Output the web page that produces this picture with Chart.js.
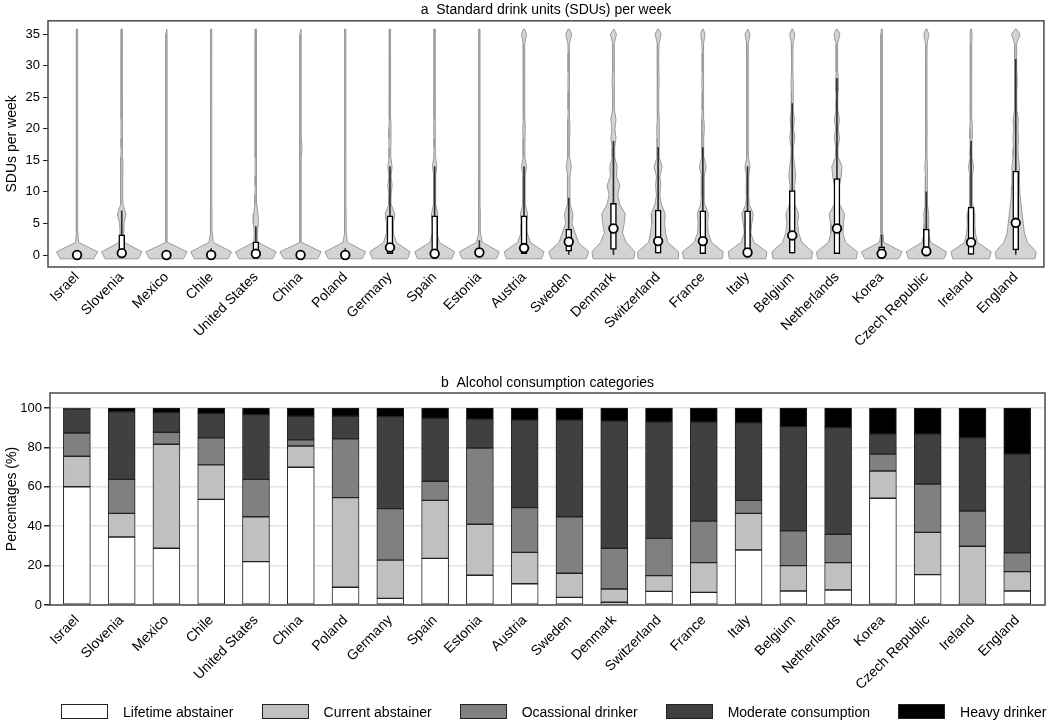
<!DOCTYPE html>
<html>
<head>
<meta charset="utf-8">
<script src="https://cdn.jsdelivr.net/npm/chart.js@4.4.1/dist/chart.umd.min.js"></script>
<style>
  html, body { margin: 0; padding: 0; background: #fff; overflow: hidden; }
  #wrap { position: relative; width: 1050px; height: 725px; overflow: hidden; }
  canvas { position: absolute; left: 0; }
  #sdu { top: 0; }
  #cat { top: 370px; }
  #legend {
    position: absolute; left: 61px; top: 704px; margin: 0; padding: 0;
    list-style: none; display: flex; width: max-content; white-space: nowrap;
    font: 14px 'Liberation Sans', Arial, sans-serif; color: #000;
  }
  #legend li { display: flex; align-items: center; flex-shrink: 0; margin-right: 28px; height: 15px; }
  #legend .box { width: 47px; height: 15px; box-sizing: border-box; border: 1px solid #222; margin-right: 15px; }
</style>
</head>
<body>
<div id="wrap">
  <canvas id="sdu" width="1050" height="370"></canvas>
  <canvas id="cat" width="1050" height="355"></canvas>
  <ul id="legend"></ul>
</div>
<script>
const countries = ['Israel', 'Slovenia', 'Mexico', 'Chile', 'United States', 'China', 'Poland',
  'Germany', 'Spain', 'Estonia', 'Austria', 'Sweden', 'Denmark', 'Switzerland', 'France', 'Italy',
  'Belgium', 'Netherlands', 'Korea', 'Czech Republic', 'Ireland', 'England'];

const sduTicks = [0, 5, 10, 15, 20, 25, 30, 35];
const pctTicks = [0, 20, 40, 60, 80, 100];

// ---- panel a: box plot stats (SDUs per week) ----
const sduMedian = [0, 0.3, 0, 0, 0.2, 0, 0, 1.2, 0.2, 0.4, 1.1, 2.1, 4.2, 2.2, 2.2, 0.4, 3.1, 4.2, 0.2, 0.6, 2.0, 5.1];
const sduQ1     = [0, 0.3, 0, 0, 0.2, 0, 0, 0.2, 0, 0, 0.2, 0.6, 0.9, 0.3, 0.2, 0, 0.3, 0.2, 0, 0, 0.1, 0.8];
const sduQ3     = [0, 3.2, 0, 0.4, 2.1, 0, 0.4, 6.2, 6.2, 1, 6.2, 4.1, 8.2, 7.1, 7.0, 7.0, 10.2, 12.1, 1.3, 4.1, 7.6, 13.3];
const sduLow    = [0, 0.3, 0, 0, 0.2, 0, 0, 0.2, 0, 0, 0.2, 0, 0, 0.3, 0.2, 0, 0.3, 0.2, 0, 0, 0.1, 0];
const sduHigh   = [0, 7, 0, 1, 4.5, 0, 1, 14, 14, 2.3, 14, 9, 18, 17, 17, 14, 24, 28, 3.2, 10, 18, 31];

// kernel density at sduGrid, relative to the widest violin
const sduGrid = [-0.6, 0.5, 2, 3.5, 5, 6.5, 8, 9.5, 11, 12.5, 14, 15.5, 17, 18.5, 20, 21.5, 23, 24.5, 26, 27.5, 29, 30.5, 32, 33.5, 35, 35.8];
const sduDensity = [
  [.78,.96,.07,.04,.03,.03,.03,.03,.03,.03,.03,.03,.03,.03,.03,.03,.03,.03,.03,.03,.03,.03,.03,.03,.03,.02], // Israel
  [.78,.94,.12,.08,.10,.20,.06,.04,.05,.04,.06,.04,.03,.03,.04,.03,.03,.03,.03,.03,.03,.03,.03,.03,.03,.02], // Slovenia
  [.79,.96,.06,.03,.03,.03,.03,.03,.03,.03,.03,.03,.03,.03,.03,.03,.03,.03,.03,.03,.03,.03,.03,.03,.03,.02], // Mexico
  [.79,.95,.10,.05,.04,.04,.03,.03,.03,.03,.03,.03,.03,.03,.03,.03,.03,.03,.03,.03,.03,.03,.03,.03,.03,.02], // Chile
  [.79,.95,.10,.07,.12,.10,.05,.04,.03,.03,.04,.03,.03,.03,.03,.03,.03,.03,.03,.03,.03,.03,.03,.03,.03,.02], // United States
  [.79,.96,.06,.03,.03,.03,.03,.03,.03,.03,.03,.03,.07,.04,.03,.03,.03,.04,.03,.03,.03,.03,.03,.03,.03,.02], // China
  [.79,.95,.10,.05,.04,.04,.03,.03,.03,.03,.03,.03,.03,.03,.03,.03,.03,.03,.03,.03,.03,.03,.03,.03,.03,.02], // Poland
  [.82,.94,.30,.15,.16,.22,.06,.05,.10,.05,.10,.04,.04,.05,.05,.04,.03,.03,.03,.03,.03,.03,.03,.03,.03,.02], // Germany
  [.80,.93,.22,.10,.10,.15,.05,.04,.06,.04,.10,.04,.03,.03,.05,.03,.03,.03,.03,.03,.03,.03,.03,.03,.03,.02], // Spain
  [.80,.93,.14,.05,.04,.05,.03,.03,.03,.03,.03,.03,.03,.03,.03,.03,.03,.03,.03,.03,.03,.03,.03,.03,.03,.02], // Estonia
  [.82,.93,.30,.14,.13,.17,.06,.05,.06,.05,.12,.04,.04,.04,.06,.04,.03,.03,.03,.04,.03,.03,.03,.04,.12,.02], // Austria
  [.82,.93,.45,.30,.15,.20,.07,.05,.06,.05,.12,.04,.04,.04,.06,.04,.03,.03,.03,.04,.03,.03,.03,.04,.14,.02], // Sweden
  [.95,1.0,.60,.42,.50,.55,.30,.20,.30,.14,.17,.06,.06,.12,.07,.12,.04,.04,.04,.07,.04,.03,.03,.04,.14,.02], // Denmark
  [.93,.95,.45,.35,.30,.33,.15,.08,.12,.08,.19,.05,.04,.05,.07,.05,.03,.03,.03,.05,.03,.03,.03,.04,.14,.02], // Switzerland
  [.90,.95,.40,.25,.22,.26,.10,.06,.08,.06,.16,.05,.04,.04,.07,.05,.03,.03,.03,.05,.03,.03,.03,.04,.10,.02], // France
  [.85,.90,.30,.15,.20,.27,.08,.05,.06,.05,.12,.04,.03,.03,.05,.04,.03,.03,.03,.04,.03,.03,.03,.04,.12,.02], // Italy
  [.90,.95,.45,.30,.25,.30,.12,.12,.10,.16,.12,.06,.05,.12,.06,.10,.04,.04,.04,.06,.03,.03,.03,.04,.12,.02], // Belgium
  [.90,.95,.40,.28,.30,.36,.12,.08,.12,.20,.24,.06,.05,.12,.06,.12,.04,.04,.05,.07,.04,.03,.03,.04,.14,.02], // Netherlands
  [.79,.95,.10,.06,.05,.05,.04,.04,.03,.03,.03,.03,.03,.03,.03,.03,.03,.03,.03,.03,.03,.03,.03,.03,.03,.02], // Korea
  [.82,.94,.20,.10,.10,.12,.05,.04,.05,.04,.07,.03,.03,.03,.04,.03,.03,.03,.03,.03,.03,.03,.03,.04,.12,.02], // Czech Republic
  [.85,.94,.30,.20,.17,.18,.08,.05,.07,.05,.12,.04,.04,.05,.06,.04,.03,.03,.03,.04,.03,.03,.03,.03,.05,.02], // Ireland
  [.90,.95,.55,.40,.35,.30,.25,.20,.18,.17,.18,.12,.10,.13,.10,.12,.05,.05,.05,.07,.05,.04,.04,.05,.20,.02]  // England
];

// ---- panel b: consumption categories (%) ----
const lifetimeAbst = [60, 34.5, 28.8, 53.6, 22, 69.9, 9, 3.4, 23.7, 15.1, 10.8, 3.9, 1.4, 6.9, 6.4, 27.9, 7.1, 7.6, 54.2, 15.4, 0.3, 7.1];
const currentAbst  = [15.5, 12, 52.8, 17.5, 22.8, 10.8, 45.5, 19.4, 29.4, 25.9, 15.9, 12.2, 6.7, 8, 15.1, 18.6, 12.9, 13.9, 13.8, 21.5, 29.5, 9.8];
const occasional   = [11.8, 17.3, 6.1, 13.8, 19, 3.1, 29.8, 26.1, 9.7, 38.7, 22.7, 28.7, 20.7, 18.9, 21.1, 6.6, 17.6, 14.4, 8.6, 24.5, 17.9, 9.6];
const moderate     = [12.2, 34.3, 9.9, 12.2, 32.8, 12, 11.5, 46.7, 32, 14.6, 44.4, 49, 64.6, 59.1, 50.3, 39.3, 52.9, 54.1, 10.2, 25.4, 37.2, 50.1];
const heavy        = [0.5, 1.9, 2.4, 2.9, 3.4, 4.2, 4.2, 4.4, 5.2, 5.7, 6.2, 6.2, 6.6, 7.1, 7.1, 7.6, 9.5, 10, 13.2, 13.2, 15.1, 23.4];

Chart.defaults.font.family = "'Liberation Sans', Arial, sans-serif";
Chart.defaults.color = '#000';

// box around the plot area
const frame = {
  id: 'frame',
  afterDraw(chart) {
    const { ctx, chartArea: a } = chart;
    ctx.save();
    ctx.strokeStyle = '#4a4a4a';
    ctx.lineWidth = 1.5;
    ctx.strokeRect(a.left, a.top, a.right - a.left, a.bottom - a.top);
    ctx.restore();
  }
};

// legend as html list (chart.js html legend pattern)
const htmlLegend = {
  id: 'htmlLegend',
  afterUpdate(chart) {
    const ul = document.getElementById('legend');
    ul.innerHTML = '';
    chart.options.plugins.legend.labels.generateLabels(chart).forEach(item => {
      const li = document.createElement('li');
      const box = document.createElement('span');
      box.className = 'box';
      box.style.background = item.fillStyle;
      const txt = document.createElement('span');
      txt.textContent = item.text;
      li.append(box, txt);
      ul.append(li);
    });
  }
};

const countryAxis = (min, max, h, pad) => ({
  type: 'linear', offset: false, min, max,
  afterBuildTicks: s => { s.ticks = countries.map((c, i) => ({ value: i })); },
  afterFit: s => { s.height = h; },
  ticks: { autoSkip: false, minRotation: 45, maxRotation: 45, padding: pad, font: { size: 14 }, callback: v => countries[v] },
  grid: { display: false },
  border: { display: false }
});

// ---- a: violins ----
const halfWidth = 0.48;
const violins = countries.map((c, i) => {
  const d = sduDensity[i];
  const right = sduGrid.map((y, k) => ({ x: i + d[k] * halfWidth, y }));
  const left = sduGrid.map((y, k) => ({ x: i - d[k] * halfWidth, y })).reverse();
  return {
    type: 'line', order: 3,
    data: right.concat(left, [right[0]]),
    borderColor: '#9a9a9a', borderWidth: 1, backgroundColor: '#d4d4d4',
    fill: 'shape', pointRadius: 0, tension: 0
  };
});

const whiskers = {
  type: 'bar', order: 2, grouped: false, barThickness: 1,
  backgroundColor: '#2e2e2e',
  data: countries.map((c, i) => ({ x: i, y: [sduLow[i], sduHigh[i]] })).filter(p => p.y[1] > p.y[0])
};
const boxes = {
  type: 'bar', order: 1, grouped: false, barThickness: 6,
  backgroundColor: '#fff', borderColor: '#000', borderWidth: 1.5, borderSkipped: false,
  data: countries.map((c, i) => ({ x: i, y: [sduQ1[i], sduQ3[i]] })).filter(p => p.y[1] > p.y[0])
};
const medians = {
  type: 'scatter', order: 0,
  data: countries.map((c, i) => ({ x: i, y: sduMedian[i] })),
  pointRadius: 4.3, pointBorderWidth: 1.8, pointBackgroundColor: '#fff', pointBorderColor: '#000'
};

new Chart(document.getElementById('sdu'), {
  type: 'scatter',
  data: { datasets: [medians, boxes, whiskers, ...violins] },
  options: {
    responsive: false, animation: false, events: [],
    layout: { padding: { right: 5, bottom: 3 } },
    plugins: {
      legend: { display: false },
      tooltip: { enabled: false },
      title: {
        display: true, fullSize: false, text: 'a  Standard drink units (SDUs) per week',
        font: { size: 14, weight: 'normal' }, padding: { top: 2, bottom: 2 }
      }
    },
    scales: {
      x: countryAxis(-0.65, 21.63, 100, -6),
      y: {
        min: -1.9, max: 37.1,
        afterBuildTicks: s => { s.ticks = sduTicks.map(v => ({ value: v })); },
        afterFit: s => { s.width = 48; },
        ticks: { font: { size: 13 }, padding: 3 },
        grid: { drawOnChartArea: false, tickLength: 5, tickColor: '#222' },
        border: { display: false },
        title: { display: true, text: 'SDUs per week', font: { size: 14 } }
      }
    }
  },
  plugins: [frame]
});

// ---- b: stacked bars ----
const categories = [
  { label: 'Lifetime abstainer', values: lifetimeAbst, color: '#ffffff' },
  { label: 'Current abstainer', values: currentAbst, color: '#c0c0c0' },
  { label: 'Ocassional drinker', values: occasional, color: '#808080' },
  { label: 'Moderate consumption', values: moderate, color: '#404040' },
  { label: 'Heavy drinker', values: heavy, color: '#000000' }
];

new Chart(document.getElementById('cat'), {
  type: 'bar',
  data: {
    datasets: categories.map(c => ({
      label: c.label,
      data: c.values.map((v, i) => ({ x: i, y: v })),
      backgroundColor: c.color, borderColor: '#222', borderWidth: 1, borderSkipped: false,
      barThickness: 27
    }))
  },
  options: {
    responsive: false, animation: false, events: [],
    layout: { padding: { right: 5 } },
    plugins: {
      tooltip: { enabled: false },
      legend: { display: false },
      title: {
        display: true, fullSize: false, text: 'b  Alcohol consumption categories',
        font: { size: 14, weight: 'normal' }, padding: { top: 4.6, bottom: 1.6 }
      }
    },
    scales: {
      x: { ...countryAxis(-0.6, 21.62, 120, -1), stacked: true },
      y: {
        stacked: true, min: 0, max: 107.6,
        afterBuildTicks: s => { s.ticks = pctTicks.map(v => ({ value: v })); },
        afterFit: s => { s.width = 50; },
        ticks: { font: { size: 13 }, padding: 2 },
        grid: { color: '#e4e4e4', lineWidth: 1.5, tickColor: '#222', tickLength: 6 },
        border: { display: false },
        title: { display: true, text: 'Percentages (%)', font: { size: 14 } }
      }
    }
  },
  plugins: [frame, htmlLegend]
});
</script>
</body>
</html>
